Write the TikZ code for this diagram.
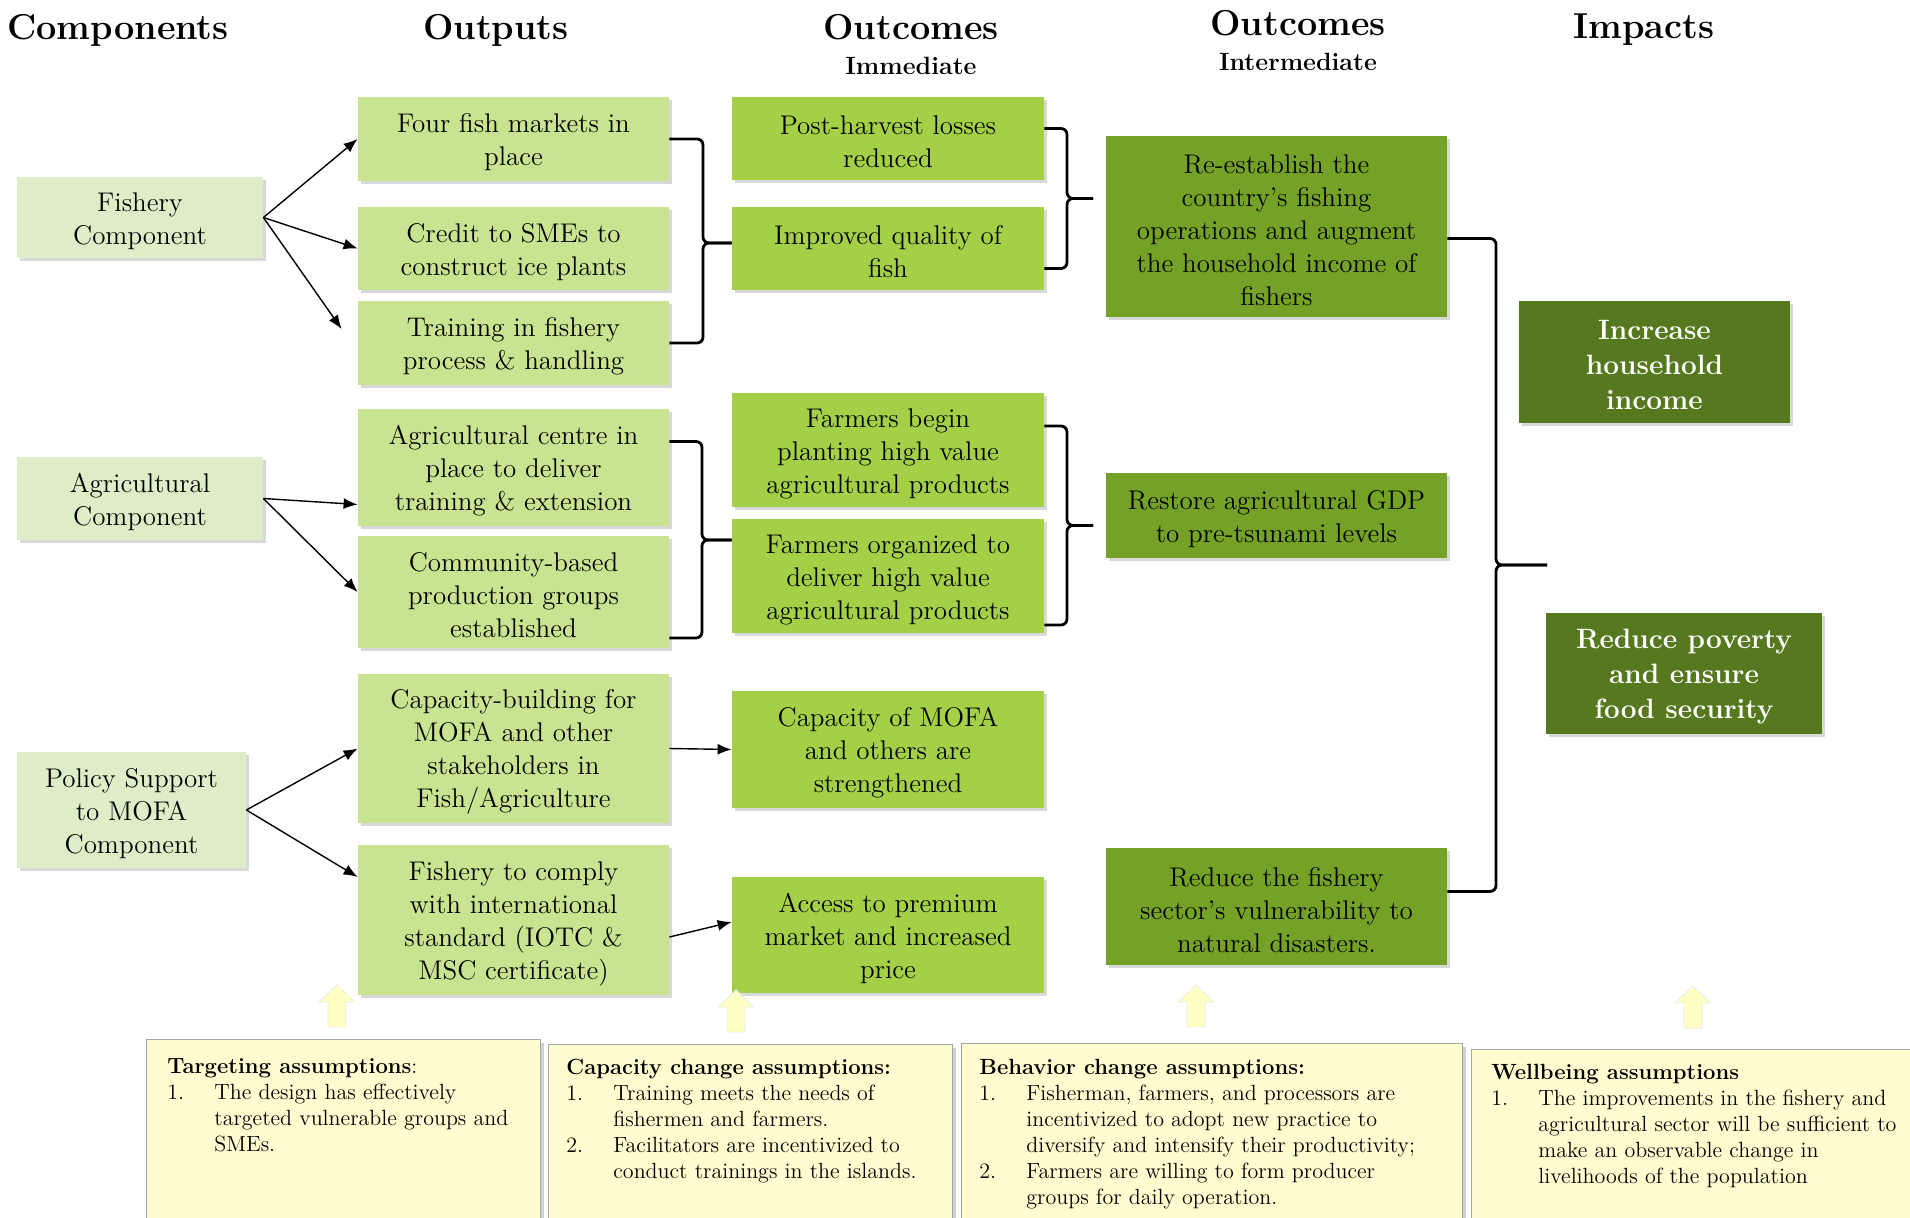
\documentclass[tikz,border=0pt]{standalone}
\usepackage{tikz}
\usetikzlibrary{positioning}
\usetikzlibrary{arrows.meta}
\usetikzlibrary{shadows}
\usetikzlibrary{backgrounds}
\usetikzlibrary{calc}

\definecolor{compgreen}{RGB}{221,237,200}
\definecolor{outgreen}{RGB}{201,228,145}
\definecolor{immgreen}{RGB}{164,208,72}
\definecolor{intgreen}{RGB}{115,162,38}
\definecolor{impgreen}{RGB}{86,120,31}
\definecolor{asmyellow}{RGB}{255,253,208}
\definecolor{arryellow}{RGB}{255,255,196}

% taller first line, so the text sits a little lower in its box
\newcommand{\topstrut}{\rule{0pt}{13pt}}

\tikzset{
  box/.style={rectangle, align=center, inner sep=2pt,
    font=\fontsize{13.5}{16.5}\selectfont,
    drop shadow={shadow xshift=1.5pt, shadow yshift=-1.5pt, opacity=.25, fill=black!60}},
  comp/.style={box, fill=compgreen},
  outp/.style={box, fill=outgreen},
  immed/.style={box, fill=immgreen},
  inter/.style={box, fill=intgreen},
  impact/.style={box, fill=impgreen, text=white, font=\fontsize{14}{17.5}\selectfont\bfseries},
  head/.style={font=\fontsize{18}{21}\selectfont\bfseries},
  subhead/.style={font=\fontsize{12.5}{15}\selectfont\bfseries},
  conn/.style={-{Latex[length=7pt,width=5.5pt]}, line width=0.7pt},
  brace/.style={line width=1.4pt, rounded corners=3pt},
  asm/.style={rectangle, fill=asmyellow, draw=black!35, line width=0.6pt,
    drop shadow={shadow xshift=1.5pt, shadow yshift=-1.5pt, opacity=.3, fill=black!60}},
  asmtext/.style={font=\fontsize{11}{13}\selectfont, inner sep=0pt},
}

\begin{document}
\begin{tikzpicture}[x=0.5pt, y=-0.5pt]
  \useasboundingbox (0,0) rectangle (1910,1218);
  \clip (0,0) rectangle (1910,1218);
  \fill[white] (0,0) rectangle (1910,1218);

  % column headings
  \node[head] (hcomp) at (118,30) {Components};
  \node[head] (hout) at (496,30) {Outputs};
  \node[head] (himm) at (911,27) {Outcomes};
  \node[subhead] (himms) at (911,66) {Immediate};
  \node[head] (hint) at (1298,23) {Outcomes};
  \node[subhead] (hints) at (1298,62) {Intermediate};
  \node[head] (himp) at (1644,30) {Impacts};

  % components
  \node[comp, minimum width=123pt, minimum height=40.5pt] (fishc) at (140,217.5) {\topstrut Fishery\\Component};
  \node[comp, minimum width=123pt, minimum height=41.5pt] (agric) at (140,498.5) {\topstrut Agricultural\\Component};
  \node[comp, minimum width=114.5pt, minimum height=58pt] (policyc) at (131.5,810) {\topstrut Policy Support\\to MOFA\\Component};

  % outputs
  \node[outp, minimum width=155.5pt, minimum height=42pt] (mkt) at (513.5,139) {\topstrut Four fish markets in\\place};
  \node[outp, minimum width=155.5pt, minimum height=41.5pt] (credit) at (513.5,248.5) {\topstrut Credit to SMEs to\\construct ice plants};
  \node[outp, minimum width=155.5pt, minimum height=42pt] (train) at (513.5,343) {\topstrut Training in fishery\\process \& handling};
  \node[outp, minimum width=155.5pt, minimum height=58.5pt] (acentre) at (513.5,467.5) {\topstrut Agricultural centre in\\place to deliver\\training \& extension};
  \node[outp, minimum width=155.5pt, minimum height=56pt] (community) at (513.5,592) {\topstrut Community-based\\production groups\\established};
  \node[outp, minimum width=155.5pt, minimum height=74.5pt] (capbuild) at (513.5,748.5) {\topstrut Capacity-building for\\MOFA and other\\stakeholders in\\Fish/Agriculture};
  \node[outp, minimum width=155.5pt, minimum height=75pt] (comply) at (513.5,920) {\topstrut Fishery to comply\\with international\\standard (IOTC \&\\MSC certificate)};

  % immediate outcomes
  \node[immed, minimum width=156pt, minimum height=41.5pt] (post) at (888,138.5) {\topstrut Post-harvest losses\\reduced};
  \node[immed, minimum width=156pt, minimum height=41.5pt] (improved) at (888,248.5) {\topstrut Improved quality of\\fish};
  \node[immed, minimum width=156pt, minimum height=57pt] (begin) at (888,450) {\topstrut Farmers begin\\planting high value\\agricultural products};
  \node[immed, minimum width=156pt, minimum height=57pt] (orgd) at (888,576) {\topstrut Farmers organized to\\deliver high value\\agricultural products};
  \node[immed, minimum width=156pt, minimum height=58.5pt] (capmofa) at (888,749.5) {\topstrut Capacity of MOFA\\and others are\\strengthened};
  \node[immed, minimum width=156pt, minimum height=58pt] (access) at (888,935) {\topstrut Access to premium\\market and increased\\price};

  % intermediate outcomes
  \node[inter, minimum width=170.5pt, minimum height=90.5pt] (reestab) at (1276.5,226.5) {\topstrut Re-establish the\\country's fishing\\operations and augment\\the household income of\\fishers};
  \node[inter, minimum width=170.5pt, minimum height=42.5pt] (restore) at (1276.5,515.5) {\topstrut Restore agricultural GDP\\to pre-tsunami levels};
  \node[inter, minimum width=170.5pt, minimum height=58.5pt] (reduce) at (1276.5,906.5) {\topstrut Reduce the fishery\\sector's vulnerability to\\natural disasters.};

  % impacts
  \node[impact, minimum width=135.5pt, minimum height=61pt] (incr) at (1654.5,362) {\topstrut Increase\\household\\income};
  \node[impact, minimum width=138pt, minimum height=60.5pt] (pov) at (1684,673.5) {\topstrut Reduce poverty\\and ensure\\food security};

  % component arrows
  \draw[conn] (fishc.east) -- (mkt.west);
  \draw[conn] (fishc.east) -- (credit.west);
  \draw[conn] (fishc.east) -- ($(train.west)+(-16,-14)$);
  \draw[conn] (agric.east) -- ($(acentre.west)+(0,37)$);
  \draw[conn] (agric.east) -- (community.west);
  \draw[conn] (policyc.east) -- (capbuild.west);
  \draw[conn] (policyc.east) -- ($(comply.west)+(0,-43)$);
  \draw[conn] (capbuild.east) -- (capmofa.west);
  \draw[conn] ($(comply.east)+(0,17)$) -- ($(access.west)+(0,-13)$);

  % long arrows pass behind the boxes
  \begin{pgfonlayer}{background}
    \draw[conn] (capmofa.east) -- ($(reestab.south west)+(79,2)$);
    \draw[conn] (capmofa.east) -- ($(restore.south west)+(129,11)$);
    \draw[conn] (access.east) -- ($(reestab.south west)+(96,2)$);
  \end{pgfonlayer}

  % braces
  \coordinate (b1m) at (703,243);
  \draw[brace] (mkt.east) -| (b1m) -- (b1m -| improved.west);
  \draw[brace] (train.east) -| (b1m) -- (b1m -| improved.west);
  \coordinate (b2m) at (1067,198.5);
  \draw[brace] ($(post.east)+(0,-10)$) -| (b2m) -- ++(26,0);
  \draw[brace] ($(improved.east)+(0,20)$) -| (b2m) -- ++(26,0);
  \coordinate (b3m) at (702,540);
  \draw[brace] ($(acentre.east)+(0,-26)$) -| (b3m) -- (b3m -| orgd.west);
  \draw[brace] ($(community.east)+(0,46)$) -| (b3m) -- (b3m -| orgd.west);
  \coordinate (b4m) at (1067,525.5);
  \draw[brace] ($(begin.east)+(0,-24)$) -| (b4m) -- ++(26,0);
  \draw[brace] ($(orgd.east)+(0,49)$) -| (b4m) -- ++(26,0);
  \coordinate (b5m) at (1496,565);
  \draw[brace] ($(reestab.east)+(0,12)$) -| (b5m) -- ++(51,0);
  \draw[brace] ($(reduce.east)+(0,-15)$) -| (b5m) -- ++(51,0);

  % yellow block arrows
  \foreach \ax/\ay in {337/985, 736/990, 1196/985, 1693/986} {
    \fill[arryellow, draw=black!8] (\ax-9,\ay+42) -- (\ax-9,\ay+17) -- (\ax-18,\ay+17) -- (\ax,\ay)
      -- (\ax+18,\ay+17) -- (\ax+9,\ay+17) -- (\ax+9,\ay+42) -- cycle;
  }

  % assumption boxes
  \node[asm, anchor=north west, minimum width=197pt, minimum height=100pt] (tgt) at (146,1039) {};
  \node[asm, anchor=north west, minimum width=202pt, minimum height=100pt] (capch) at (548,1044) {};
  \node[asm, anchor=north west, minimum width=250.5pt, minimum height=100pt] (behav) at (961,1043) {};
  \node[asm, anchor=north west, minimum width=222pt, minimum height=100pt] (wellb) at (1471,1049) {};

  \node[asmtext, anchor=north west] (tgttxt) at ($(tgt.north west)+(21,16)$) {%
    \begin{tabular}{@{}p{23.5pt}@{}l@{}}
      \multicolumn{2}{@{}l@{}}{\textbf{Targeting assumptions}:}\\
      1. & The design has effectively\\
         & targeted vulnerable groups and\\
         & SMEs.
    \end{tabular}};
  \node[asmtext, anchor=north west] (capchtxt) at ($(capch.north west)+(18,12)$) {%
    \begin{tabular}{@{}p{23.5pt}@{}l@{}}
      \multicolumn{2}{@{}l@{}}{\textbf{Capacity change assumptions:}}\\
      1. & Training meets the needs of\\
         & fishermen and farmers.\\
      2. & Facilitators are incentivized to\\
         & conduct trainings in the islands.
    \end{tabular}};
  \node[asmtext, anchor=north west] (behavtxt) at ($(behav.north west)+(18,13)$) {%
    \begin{tabular}{@{}p{23.5pt}@{}l@{}}
      \multicolumn{2}{@{}l@{}}{\textbf{Behavior change assumptions:}}\\
      1. & Fisherman, farmers, and processors are\\
         & incentivized to adopt new practice to\\
         & diversify and intensify their productivity;\\
      2. & Farmers are willing to form producer\\
         & groups for daily operation.
    \end{tabular}};
  \node[asmtext, anchor=north west] (wellbtxt) at ($(wellb.north west)+(20,12)$) {%
    \begin{tabular}{@{}p{23.5pt}@{}l@{}}
      \multicolumn{2}{@{}l@{}}{\textbf{Wellbeing assumptions}}\\
      1. & The improvements in the fishery and\\
         & agricultural sector will be sufficient to\\
         & make an observable change in\\
         & livelihoods of the population
    \end{tabular}};
\end{tikzpicture}
\end{document}
